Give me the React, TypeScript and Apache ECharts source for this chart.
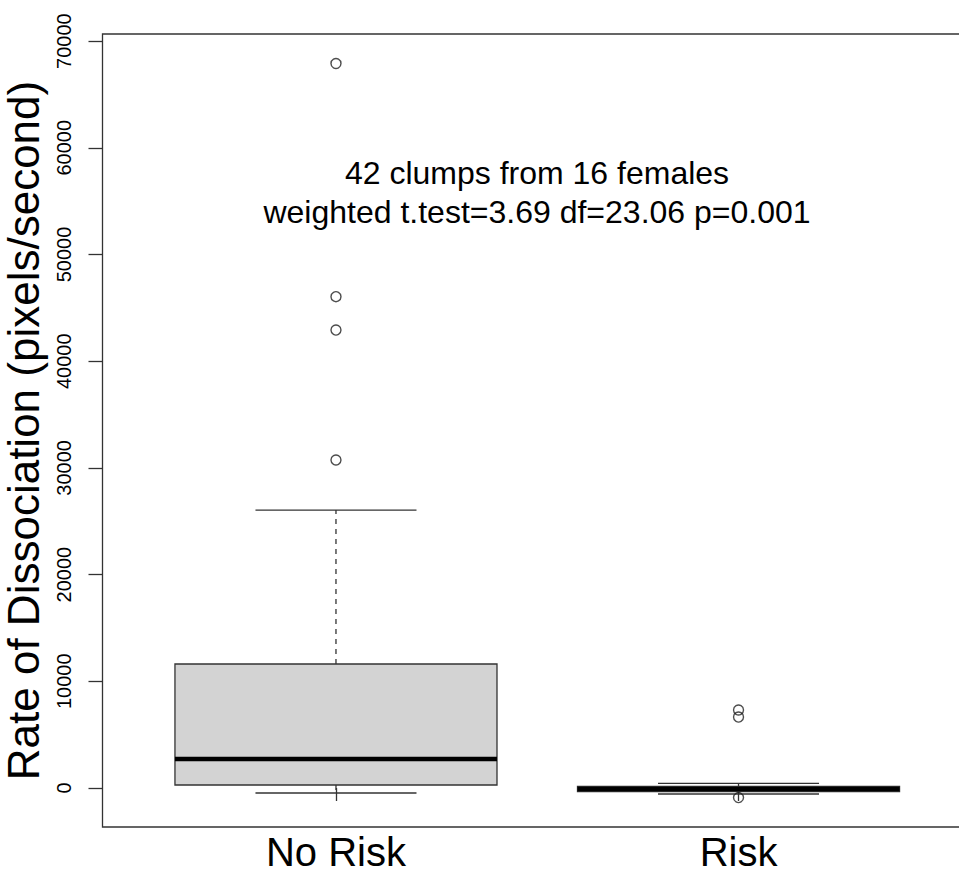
import React, { useEffect, useRef } from "react";
import * as echarts from "echarts";

const categories = ["No Risk", "Risk"];
const categoryPositions = [1, 2];
const lowerWhisker = [-470, -560];
const lowerQuartile = [280, -330];
const medianValues = [2720, -95];
const upperQuartile = [11620, 140];
const upperWhisker = [26050, 440];
const noRiskOutliers = [67900, 46050, 42920, 30740];
const riskOutliers = [7310, 6650, -900];
const yTicks = [0, 10000, 20000, 30000, 40000, 50000, 60000, 70000];
const annotationLines = ["42 clumps from 16 females", "weighted t.test=3.69 df=23.06 p=0.001"];
const yAxisTitle = "Rate of Dissociation (pixels/second)";

const FONT = "'Liberation Sans', Arial, Helvetica, sans-serif";
const INK = "#333333";

export default function App() {
  const ref = useRef<HTMLDivElement>(null);
  useEffect(() => {
    document.body.style.margin = "0";
    if (!ref.current) return;
    const chart = echarts.init(ref.current, undefined, { renderer: "svg" });

    const boxData = categoryPositions.map((x, i) => [
      x,
      lowerWhisker[i],
      lowerQuartile[i],
      medianValues[i],
      upperQuartile[i],
      upperWhisker[i],
    ]);
    const outlierData = [
      ...noRiskOutliers.map((v) => [categoryPositions[0], v]),
      ...riskOutliers.map((v) => [categoryPositions[1], v]),
    ];

    const option: any = {
      animation: false,
      backgroundColor: "#ffffff",
      grid: {
        left: 102.5,
        right: -13,
        top: 34,
        bottom: 49,
        show: true,
        borderColor: INK,
        borderWidth: 1.3,
        backgroundColor: "transparent",
        containLabel: false,
        outerBoundsMode: "none",
      },
      xAxis: {
        type: "value",
        min: 0.42,
        max: 2.58,
        splitLine: { show: false },
        axisLine: { show: false },
        axisTick: {
          show: true,
          customValues: categoryPositions,
          length: 13,
          lineStyle: { color: INK, width: 1.3 },
        },
        axisLabel: {
          show: true,
          customValues: categoryPositions,
          formatter: (v: number) => categories[categoryPositions.indexOf(Math.round(v))] ?? "",
          fontFamily: FONT,
          fontSize: 40,
          lineHeight: 34,
          color: "#000",
          margin: 8,
        },
      },
      yAxis: {
        type: "value",
        min: -3655,
        max: 70665,
        splitLine: { show: false },
        axisLine: { show: false },
        axisTick: {
          show: true,
          customValues: yTicks,
          length: 14,
          lineStyle: { color: INK, width: 1.3 },
        },
        axisLabel: {
          show: true,
          customValues: yTicks,
          rotate: 90,
          formatter: (v: number) => String(Math.round(v)),
          fontFamily: FONT,
          fontSize: 20,
          color: "#000",
          margin: 29,
        },
        name: yAxisTitle,
        nameLocation: "middle",
        nameGap: 55,
        nameTextStyle: { fontFamily: FONT, fontSize: 44, lineHeight: 36, color: "#000" },
      },
      graphic: annotationLines.map((t, i) => ({
        type: "text",
        x: 537,
        y: 173 + i * 39,
        style: {
          text: t,
          fontFamily: FONT,
          fontSize: 32,
          fill: "#000",
          textAlign: "center",
          textVerticalAlign: "middle",
        },
      })),
      series: [
        {
          type: "custom",
          data: boxData,
          encode: { x: 0, y: [1, 2, 3, 4, 5] },
          renderItem: (_params: any, api: any) => {
            const x = api.value(0);
            const lo = api.coord([x, api.value(1)]);
            const q1 = api.coord([x, api.value(2)]);
            const med = api.coord([x, api.value(3)]);
            const q3 = api.coord([x, api.value(4)]);
            const hi = api.coord([x, api.value(5)]);
            const cx = lo[0];
            const bw = api.size([0.8, 0])[0];
            const sw = bw / 2;
            const dashed = { stroke: INK, lineWidth: 1.3, lineDash: [5, 5] };
            const solid = { stroke: INK, lineWidth: 1.3 };
            return {
              type: "group",
              children: [
                { type: "line", shape: { x1: cx, y1: q3[1], x2: cx, y2: hi[1] }, style: dashed },
                { type: "line", shape: { x1: cx, y1: q1[1], x2: cx, y2: lo[1] }, style: dashed },
                { type: "line", shape: { x1: cx - sw / 2, y1: hi[1], x2: cx + sw / 2, y2: hi[1] }, style: solid },
                { type: "line", shape: { x1: cx - sw / 2, y1: lo[1], x2: cx + sw / 2, y2: lo[1] }, style: solid },
                {
                  type: "rect",
                  shape: { x: cx - bw / 2, y: q3[1], width: bw, height: q1[1] - q3[1] },
                  style: { fill: "#D3D3D3", stroke: INK, lineWidth: 1.3 },
                },
                {
                  type: "line",
                  shape: { x1: cx - bw / 2, y1: med[1], x2: cx + bw / 2, y2: med[1] },
                  style: { stroke: "#000", lineWidth: 4.5 },
                },
              ],
            };
          },
        },
        {
          type: "scatter",
          data: outlierData,
          symbol: "circle",
          symbolSize: 10,
          itemStyle: { color: "transparent", borderColor: "#222", borderWidth: 1.4 },
        },
      ],
    };
    chart.setOption(option);
    return () => chart.dispose();
  }, []);
  return <div ref={ref} style={{ width: 959, height: 876 }} />;
}
